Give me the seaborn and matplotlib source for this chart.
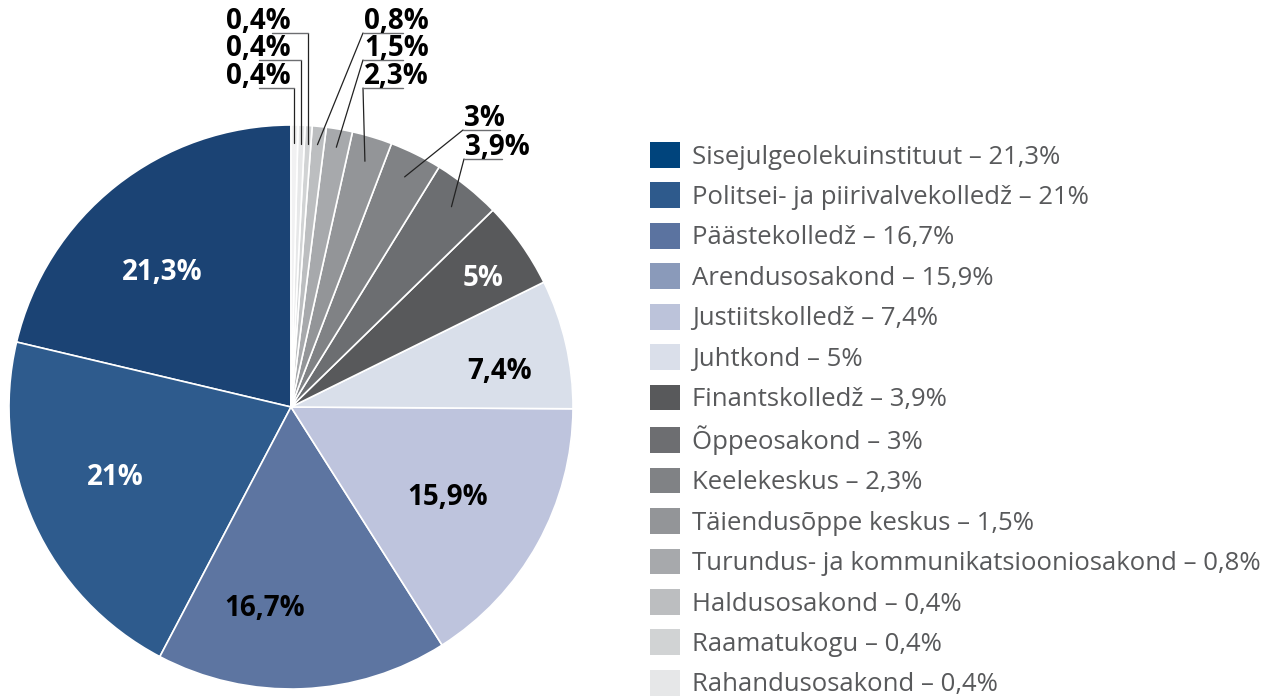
import numpy as np
import matplotlib.pyplot as plt
import seaborn as sns
from matplotlib.patches import Patch

units = [
    "Sisejulgeolekuinstituut", "Politsei- ja piirivalvekolledž", "Päästekolledž",
    "Arendusosakond", "Justiitskolledž", "Juhtkond", "Finantskolledž",
    "Õppeosakond", "Keelekeskus", "Täiendusõppe keskus",
    "Turundus- ja kommunikatsiooniosakond", "Haldusosakond", "Raamatukogu",
    "Rahandusosakond",
]
shares = [21.3, 21, 16.7, 15.9, 7.4, 5, 3.9, 3, 2.3, 1.5, 0.8, 0.4, 0.4, 0.4]
share_labels = ["21,3%", "21%", "16,7%", "15,9%", "7,4%", "5%", "3,9%", "3%",
                "2,3%", "1,5%", "0,8%", "0,4%", "0,4%", "0,4%"]

legend_colors = ["#00447c", "#2e5a8c", "#5b73a0", "#8a9aba", "#bcc3da", "#dadfea",
                 "#58595b", "#6d6e71", "#808285", "#939598", "#a7a9ac", "#bcbec0",
                 "#d1d3d4", "#e6e7e8"]
# the wedges in the original skip one shade after Päästekolledž
wedge_colors = ["#1b4374", "#2e5b8d", "#5d75a1", "#bec4dd", "#d9dfea", "#58595b",
                "#6c6e71", "#808285", "#939598", "#a7a9ac", "#bcbec0", "#d1d3d4",
                "#e6e7e8", "#f1f1f2"]

# inside labels: slice index, radius, angle offset (deg), text colour
inner = [(0, 0.66, 5.6, "white"), (1, 0.67, -2.7, "white"), (2, 0.72, -9.7, "black"),
         (3, 0.64, -1.0, "black"), (4, 0.75, -3.2, "black"), (5, 0.82, -1.4, "white")]
# outside labels (pixel layout): index, elbow x (None = vertical), elbow y, underline end x
outer = [(6, 464, 159, 502), (7, 463, 130, 500), (8, 363, 88, 403),
         (9, 363, 60, 403), (10, 363, 33, 403), (11, None, 33, 272),
         (12, None, 60, 259), (13, None, 88, 259)]

W, H = 1271, 699
CX, CY, R = 291, 407, 282
LBL_FS = 20


def to_data(px, py):
    return (px - CX) / R, (CY - py) / R


sns.set_theme(style="white")
plt.rcParams["font.family"] = ["Open Sans", "DejaVu Sans"]

fig = plt.figure(figsize=(W / 100, H / 100), dpi=100)
ax = fig.add_axes([0, 0, 1, 1])
wedges, _ = ax.pie(shares, colors=wedge_colors, startangle=90, counterclock=True,
                   wedgeprops=dict(edgecolor="white", linewidth=1.2))
ax.set_aspect("auto")
ax.set_xlim(-CX / R, (W - CX) / R)
ax.set_ylim(-(H - CY) / R, CY / R)
ax.axis("off")

mids = [(w.theta1 + w.theta2) / 2 for w in wedges]

for i, r, off, col in inner:
    a = np.deg2rad(mids[i] + off)
    ax.text(r * np.cos(a), r * np.sin(a), share_labels[i],
            ha="center", va="center", fontsize=LBL_FS, fontweight="bold", color=col)

for i, ex, ey, ux in outer:
    r_anchor = 0.935 if shares[i] < 2 else 0.91
    a = np.deg2rad(mids[i])
    axp, ayp = r_anchor * np.cos(a), r_anchor * np.sin(a)
    ex_d = axp if ex is None else to_data(ex, 0)[0]
    ey_d = to_data(0, ey)[1]
    ux_d = to_data(ux, 0)[0]
    ax.plot([axp, ex_d], [ayp, ey_d], color="#222222", lw=0.9)
    ax.plot([ex_d, ux_d], [ey_d, ey_d], color="#6d6e71", lw=1.0)
    ty = to_data(0, ey - 4)[1]
    if ex is None:
        ax.text(to_data(291, 0)[0], ty, share_labels[i], ha="right", va="baseline",
                fontsize=LBL_FS, fontweight="bold", color="black")
    else:
        ax.text(ex_d + 1 / R, ty, share_labels[i], ha="left", va="baseline",
                fontsize=LBL_FS, fontweight="bold", color="black")

handles = [Patch(facecolor=c, edgecolor="none") for c in legend_colors]
names = [f"{u} – {s}" for u, s in zip(units, share_labels)]
fs = 18.5
leg = fig.legend(handles, names, loc="upper left",
                 bbox_to_anchor=(650 / W, 1 - 142 / H), frameon=False,
                 fontsize=fs, borderpad=0, borderaxespad=0,
                 handlelength=30 / 25.7, handleheight=30 / 25.7,
                 handletextpad=12 / 25.7, labelspacing=0.5)
for t in leg.get_texts():
    t.set_color("#58595b")

fig.savefig("out.png", dpi=100, facecolor="white")
